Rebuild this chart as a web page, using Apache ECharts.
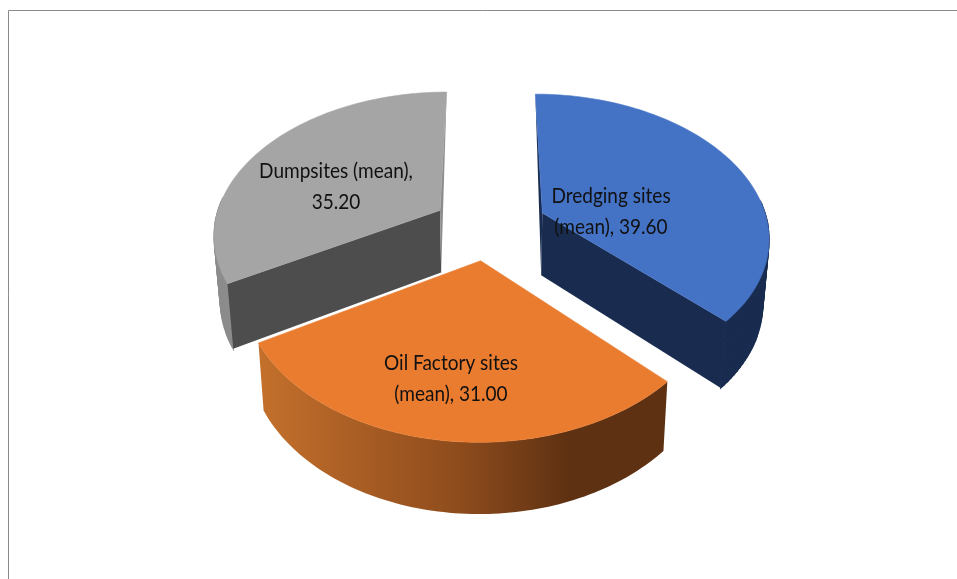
<!DOCTYPE html>
<html>
<head>
<meta charset="utf-8">
<style>html,body{margin:0;padding:0;background:#fff}#chart{width:957px;height:579px}</style>
<script src="https://cdn.jsdelivr.net/npm/echarts@6/dist/echarts.min.js"></script>
</head>
<body>
<div id="chart"></div>
<script>
// Mean values per site type, clockwise from twelve o'clock
const categories = ['Dredging sites (mean)', 'Oil Factory sites (mean)', 'Dumpsites (mean)'];
const meanValues = [39.6, 31.0, 35.2];

// Perspective camera for the tilted pie
const camera = { cx: 490, cy: 194.3, rx: 218, ry: 131.5, k: 0.15 };
const wall = { base: 62, growth: 0.042, converge: 0.022 };

const orangeWall = [
  { offset: 0, color: '#c4702c' },
  { offset: 0.5, color: '#8d4b1c' },
  { offset: 0.76, color: '#5e3112' },
  { offset: 1, color: '#5e3112' }
];

// Look of each slice: world-space explosion offset, colours, which cut faces
// are turned towards the viewer, label placement
const sliceLook = [
  { off: [0.235, 0.14], top: '#4472c4', outer: '#192c50', startFace: '#192c50', endFace: '#192c50', label: [611, 211], breakAfter: 2 },
  { off: [-0.04, 0.47], top: '#ea7c30', outer: orangeWall, startFace: null, endFace: null, label: [451, 378], breakAfter: 3 },
  { off: [-0.225, 0.12], top: '#a5a5a5', outer: '#8c8c8c', startFace: '#4d4d4d', endFace: '#8c8c8c', label: [336, 186], breakAfter: 2 }
];

const total = meanValues.reduce((a, b) => a + b, 0);

function project(X, V) {
  const s = 1 / (1 - camera.k * V);
  return [camera.cx + camera.rx * X * s, camera.cy + camera.ry * V * s];
}
// Foot of the vertical wall under a point of the top face
function drop(p) {
  const h = wall.base + (p[1] - 210) * wall.growth;
  return [p[0] + (camera.cx - p[0]) * wall.converge, p[1] + h];
}
function wrapLabel(text, n) {
  const w = text.split(' ');
  return w.slice(0, n).join(' ') + '\n' + w.slice(n).join(' ');
}

function renderSlice(params, api) {
  const i = params.dataIndex;
  const look = sliceLook[i];
  const before = meanValues.slice(0, i).reduce((a, b) => a + b, 0);
  const a0 = before / total * Math.PI * 2;
  const a1 = (before + api.value(0)) / total * Math.PI * 2;

  const apex = project(look.off[0], look.off[1]);
  const rim = [];
  const frontRim = [];
  const steps = 90;
  for (let j = 0; j <= steps; j++) {
    const t = a0 + (a1 - a0) * j / steps;
    const p = project(look.off[0] + Math.sin(t), look.off[1] - Math.cos(t));
    rim.push(p);
    // Only the part of the rim on the viewer's side has a visible wall
    if (Math.cos(t) < 0.1) frontRim.push(p);
  }
  const first = rim[0], last = rim[steps];
  const apexBottom = drop(apex);

  // A cut face lying at the far edge shows only as a sliver beside the top face
  const facePoints = (corner) => (corner[1] < apex[1]
    ? [corner, apex, apexBottom]
    : [apex, corner, drop(corner), apexBottom]);

  const poly = (points, fill, stroke, lineWidth) => ({
    type: 'polygon',
    shape: { points },
    style: stroke ? { fill, stroke, lineWidth } : { fill }
  });

  const children = [];
  if (Array.isArray(look.outer)) {
    const fill = new echarts.graphic.LinearGradient(0, 0, 1, 0, look.outer);
    children.push(poly(frontRim.concat(frontRim.map(drop).reverse()), fill));
  } else {
    // Solid walls are swept quad by quad so the silhouette stays tangent at the fold
    for (let j = 0; j < frontRim.length - 1; j++) {
      children.push(poly([frontRim[j], frontRim[j + 1], drop(frontRim[j + 1]), drop(frontRim[j])], look.outer, look.outer, 1.2));
    }
  }
  if (look.startFace) children.push(poly(facePoints(first), look.startFace));
  if (look.endFace) children.push(poly(facePoints(last), look.endFace));
  children.push(poly([apex].concat(rim), look.top, look.top, 0.6));
  children.push({
    type: 'text',
    x: look.label[0],
    y: look.label[1],
    scaleX: 0.865,
    style: {
      x: 0, y: 0,
      text: wrapLabel(categories[i] + ', ' + api.value(0).toFixed(2), look.breakAfter),
      fill: '#111',
      font: '22px Lato, "Open Sans", sans-serif',
      lineHeight: 31,
      align: 'center', verticalAlign: 'middle'
    }
  });
  return { type: 'group', children };
}

const chart = echarts.init(document.getElementById('chart'), null, { renderer: 'canvas' });
chart.setOption({
  animation: false,
  backgroundColor: '#fff',
  graphic: [
    { type: 'line', shape: { x1: 8.5, y1: 10.5, x2: 957, y2: 10.5 }, style: { stroke: '#8a8a8a', lineWidth: 1 } },
    { type: 'line', shape: { x1: 8.5, y1: 10.5, x2: 8.5, y2: 579 }, style: { stroke: '#8a8a8a', lineWidth: 1 } }
  ],
  series: [{
    type: 'custom',
    coordinateSystem: 'none',
    renderItem: renderSlice,
    data: meanValues.map((v, i) => ({ name: categories[i], value: [v] }))
  }]
});
</script>
</body>
</html>
